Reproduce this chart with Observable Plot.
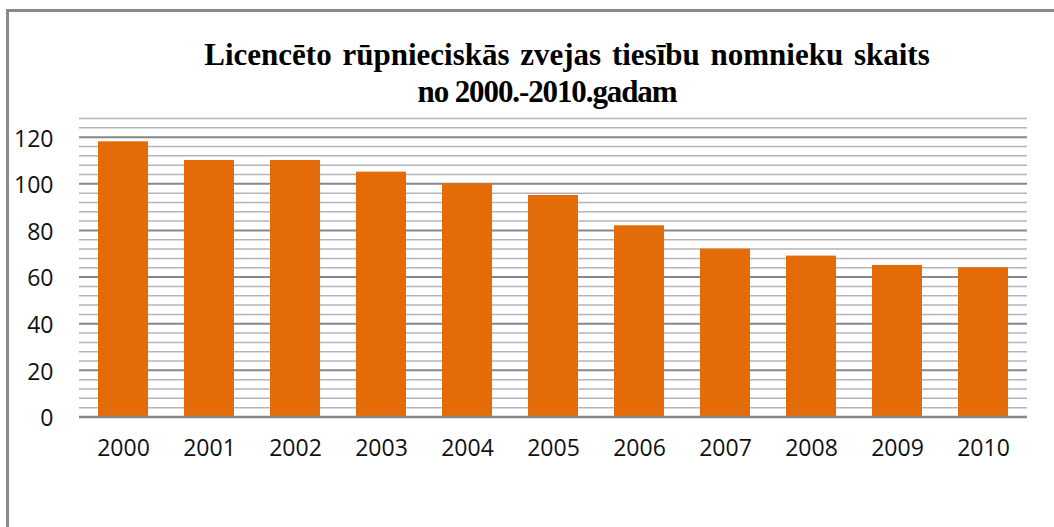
<!DOCTYPE html>
<html>
<head>
<meta charset="utf-8">
<script src="https://cdn.jsdelivr.net/npm/d3@7"></script>
<script src="https://cdn.jsdelivr.net/npm/@observablehq/plot@0.6"></script>
<style>
  html, body { margin: 0; padding: 0; background: #fff; }
  #wrap { position: relative; width: 1054px; height: 527px; overflow: hidden; }
  #frame { position: absolute; left: 6px; top: 9px; width: 1100px; height: 600px;
           border-left: 3px solid #8a8a8a; border-top: 3px solid #8a8a8a; box-sizing: border-box; }
  .title { position: absolute; font-family: "Liberation Serif", "Times New Roman", serif;
           font-weight: bold; font-size: 31px; color: #000; white-space: nowrap;
           transform: translateX(-50%); line-height: 1; }
  #chart { position: absolute; left: 0; top: 0; }
</style>
</head>
<body>
<div id="wrap">
  <div id="frame"></div>
  <div id="chart"></div>
  <div class="title" id="t1" style="left:567px; top:39px; word-spacing:3px;">Licencēto rūpnieciskās zvejas tiesību nomnieku skaits</div>
  <div class="title" id="t2" style="left:547px; top:76px; letter-spacing:-1.1px;">no 2000.-2010.gadam</div>
</div>
<script>
const years = ["2000","2001","2002","2003","2004","2005","2006","2007","2008","2009","2010"];
const counts = [118, 110, 110, 105, 100, 95, 82, 72, 69, 65, 64];
const yTicks = [0, 20, 40, 60, 80, 100, 120];
const minorTicks = d3.range(4, 129, 4).filter(v => v % 20 !== 0);

const data = years.map((y, i) => ({year: y, value: counts[i]}));

const chart = Plot.plot({
  width: 1054,
  height: 527,
  marginLeft: 79,
  marginRight: 27,
  marginTop: 118,
  marginBottom: 110.5,
  style: {fontFamily: "Open Sans", fontSize: "23px", color: "#111", background: "transparent"},
  x: {domain: years, paddingInner: 0.42, paddingOuter: 0.21, label: null},
  y: {domain: [0, 128], label: null},
  marks: [
    Plot.ruleY(minorTicks, {stroke: "#b4b4b4", strokeWidth: 1.5}),
    Plot.ruleY(yTicks.filter(v => v > 0), {stroke: "#878787", strokeWidth: 2}),
    Plot.barY(data, {x: "year", y: "value", fill: "#e36c09"}),
    Plot.ruleX([0], {x: () => 79, y1: 0, y2: 128, stroke: "#8a8a8a", strokeWidth: 1.5}),
    Plot.ruleY([0], {stroke: "#878787", strokeWidth: 2.5}),
    Plot.axisY({ticks: yTicks, tickSize: 0, tickPadding: 26, label: null, dy: 2, fontSize: 23}),
    Plot.axisX({tickSize: 0, tickPadding: 23, label: null, fontSize: 23})
  ]
});
document.getElementById("chart").appendChild(chart);
</script>
</body>
</html>
